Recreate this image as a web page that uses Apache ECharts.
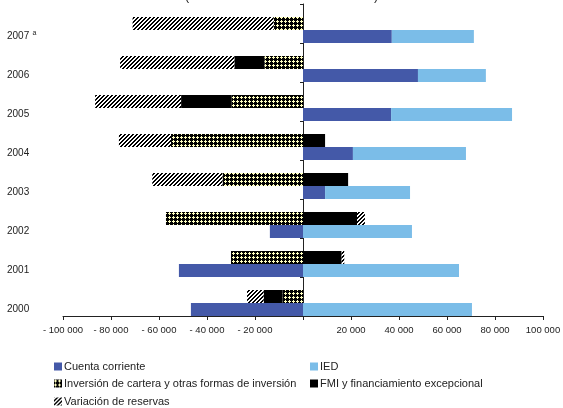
<!DOCTYPE html>
<html>
<head>
<meta charset="utf-8">
<script src="https://cdn.jsdelivr.net/npm/echarts@6/dist/echarts.min.js"></script>
<style>
  html, body { margin: 0; padding: 0; background: #fff; }
  #chart { width: 563px; height: 408px; }
</style>
</head>
<body>
<div id="chart"></div>
<script>
// Balance de pagos: fuentes y usos de financiamiento, 2000-2007 (millones de dólares)
const years = ['2000', '2001', '2002', '2003', '2004', '2005', '2006', '2007'];
const cuentaCorriente = [-46700, -51700, -13800, 9200, 20800, 36700, 47900, 37000];
const ied = [70400, 65000, 45400, 35400, 47100, 50400, 28300, 34200];
const inversionCartera = [-8500, -30000, -57100, -33500, -55000, -29700, -16100, -12200];
const fmi = [-7900, 16100, 22500, 18800, 9200, -21100, -12500, '-'];
const variacionReservas = [-6900, 1100, 3300, -29300, -21700, -35800, -47600, -58800];
const xTicks = { min: -100000, max: 100000, step: 20000 };

const FONT = '"Liberation Sans", Arial, sans-serif';

// Fill patterns for the two textured series
function makeTile(size, paint) {
  const c = document.createElement('canvas');
  c.width = size; c.height = size;
  const ctx = c.getContext('2d');
  paint(ctx);
  return c;
}
const checkTile = makeTile(4, ctx => {
  ctx.fillStyle = '#000';
  ctx.fillRect(0, 0, 4, 4);
  ctx.fillStyle = '#ffffc0';
  ctx.fillRect(1, 0, 1, 3);
  ctx.fillRect(0, 1, 3, 1);
});
const hatchTile = makeTile(4, ctx => {
  ctx.fillStyle = '#fff';
  ctx.fillRect(0, 0, 4, 4);
  ctx.fillStyle = '#000';
  for (let x = 0; x < 4; x++) {
    for (let y = 0; y < 4; y++) {
      const k = (x + y) % 4;
      if (k === 2 || k === 3) ctx.fillRect(x, y, 1, 1);
    }
  }
});
const checkFill = { image: checkTile, repeat: 'repeat' };
const hatchFill = { image: hatchTile, repeat: 'repeat' };

function fmtTick(v) {
  if (v === 0) return '';
  const s = Math.abs(v).toString().replace(/\B(?=(\d{3})+(?!\d))/g, ' ');
  return (v < 0 ? '- ' : '') + s;
}

const names = {
  cc: 'Cuenta corriente',
  ied: 'IED',
  cartera: 'Inversión de cartera y otras formas de inversión',
  fmi: 'FMI y financiamiento excepcional',
  reservas: 'Variación de reservas'
};

// One legend entry per box so the two columns line up exactly
function legendItem(name, left, top) {
  return {
    data: [name], left: left, top: top,
    itemWidth: 8, itemHeight: 8, icon: 'rect', padding: 0,
    textStyle: { fontFamily: FONT, fontSize: 11, color: '#222', padding: [0, 0, 0, -3] }
  };
}

const barBase = { type: 'bar', barCategoryGap: '0%', barGap: '0%', emphasis: { disabled: true } };

const chart = echarts.init(document.getElementById('chart'), null, { renderer: 'canvas' });
chart.setOption({
  animation: false,
  title: {
    text: '(En millones de dólares corrientes)',
    left: 'center',
    top: -15,
    textStyle: { fontFamily: FONT, fontSize: 12.5, fontWeight: 'normal', color: '#222' }
  },
  grid: { left: 63, right: 20, top: 4, bottom: 92, outerBoundsMode: 'none', containLabel: false },
  xAxis: {
    type: 'value',
    min: xTicks.min, max: xTicks.max, interval: xTicks.step,
    axisLine: { show: true, onZero: false, lineStyle: { color: '#222', width: 1 } },
    axisTick: { show: true, length: 4, lineStyle: { color: '#222' } },
    splitLine: { show: false },
    axisLabel: { formatter: fmtTick, fontFamily: FONT, fontSize: 9.5, color: '#222', margin: 9, hideOverlap: false }
  },
  yAxis: {
    type: 'category',
    data: years,
    axisLine: { show: true, onZero: true, lineStyle: { color: '#222', width: 1 } },
    axisTick: { show: true, length: 3, lineStyle: { color: '#222' } },
    axisLabel: {
      margin: 56,
      align: 'left',
      padding: [26, 0, 0, 0],
      formatter: v => v === '2007' ? '{y|2007} {s|a}' : '{y|' + v + '}',
      rich: {
        y: { fontFamily: FONT, fontSize: 10, color: '#222' },
        s: { fontFamily: FONT, fontSize: 7, color: '#222', padding: [0, 0, 7, 0] }
      }
    }
  },
  legend: [
    legendItem(names.cc, 54, 361),
    legendItem(names.cartera, 54, 378),
    legendItem(names.reservas, 54, 396),
    legendItem(names.ied, 310, 361),
    legendItem(names.fmi, 310, 378)
  ],
  series: [
    Object.assign({}, barBase, { name: 'spacer', stack: 'spacer', data: years.map(() => '-'), silent: true }),
    Object.assign({}, barBase, { name: names.cartera, stack: 'usos', data: inversionCartera, itemStyle: { color: checkFill } }),
    Object.assign({}, barBase, { name: names.fmi, stack: 'usos', data: fmi, itemStyle: { color: '#000' } }),
    Object.assign({}, barBase, { name: names.reservas, stack: 'usos', data: variacionReservas, itemStyle: { color: hatchFill } }),
    Object.assign({}, barBase, { name: names.cc, stack: 'fuentes', data: cuentaCorriente, itemStyle: { color: '#4459a8' } }),
    Object.assign({}, barBase, { name: names.ied, stack: 'fuentes', data: ied, itemStyle: { color: '#7bbde8' } })
  ]
});
</script>
</body>
</html>
